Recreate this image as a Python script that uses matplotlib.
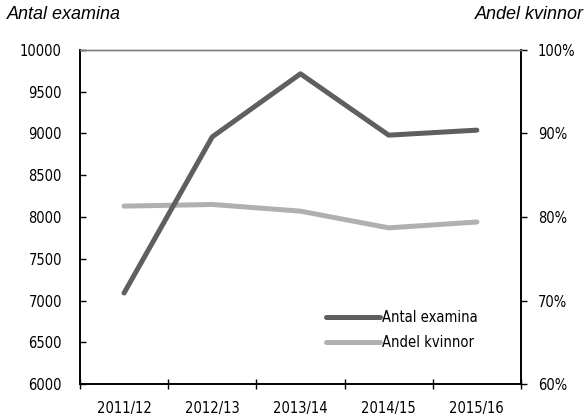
import matplotlib
matplotlib.use('Agg')
import matplotlib.pyplot as plt
import numpy as np
from matplotlib.ticker import PercentFormatter

plt.rcParams['font.family'] = ['DejaVu Sans']
plt.rcParams['font.stretch'] = 'condensed'
plt.rcParams['font.size'] = 10.5

# Examina per läsår och andel kvinnor
years = ['2011/12', '2012/13', '2013/14', '2014/15', '2015/16']
antal_examina = [7090, 8960, 9715, 8980, 9040]
andel_kvinnor = [0.813, 0.815, 0.807, 0.787, 0.794]

dark = '#5f5f5f'
light = '#b0b0b0'

fig = plt.figure(figsize=(5.88, 4.19), dpi=100)
ax = fig.add_axes([0.136, 0.0835, 0.75, 0.7972])
ax2 = ax.twinx()

x = np.arange(len(years))
l1, = ax.plot(x, antal_examina, color=dark, lw=3.6, solid_capstyle='round',
              label='Antal examina', zorder=3)
l2, = ax2.plot(x, andel_kvinnor, color=light, lw=3.6, solid_capstyle='round',
               label='Andel kvinnor', zorder=2)

ax.set_xlim(-0.5, len(years) - 0.5)
ax.set_ylim(6000, 10000)
ax.set_yticks(np.arange(6000, 10001, 500))
ax2.set_ylim(0.6, 1.0)
ax2.set_yticks([0.6, 0.7, 0.8, 0.9, 1.0])
ax2.yaxis.set_major_formatter(PercentFormatter(1.0, decimals=0))

# tick marks between categories, labels centred under each year
ax.set_xticks(np.arange(-0.5, len(years), 1.0))
ax.set_xticklabels([])
ax.set_xticks(x, minor=True)
ax.set_xticklabels(years, minor=True)
ax.tick_params(axis='x', which='major', direction='inout', length=7, width=1)
ax.tick_params(axis='x', which='minor', length=0, pad=12)
ax.tick_params(axis='y', direction='in', length=4.3, width=1, pad=13)
ax2.tick_params(axis='y', direction='out', length=4.3, width=1, pad=8)

for a in (ax, ax2):
    a.spines['top'].set_color('#808080')
    a.spines['top'].set_linewidth(1.0)
    for s in ('left', 'right', 'bottom'):
        a.spines[s].set_linewidth(1.2)

ax.set_zorder(ax2.get_zorder() + 1)
ax.patch.set_visible(False)

fig.text(0.012, 0.965, 'Antal examina', style='italic', fontsize=13,
         family=['Liberation Sans', 'DejaVu Sans'], stretch='normal',
         va='center', ha='left')
fig.text(0.993, 0.965, 'Andel kvinnor', style='italic', fontsize=13,
         family=['Liberation Sans', 'DejaVu Sans'], stretch='normal',
         va='center', ha='right')

ax.legend([l1, l2], ['Antal examina', 'Andel kvinnor'], frameon=False,
          loc='lower right', bbox_to_anchor=(0.918, 0.081), borderpad=0,
          handlelength=3.7, handletextpad=0.15, labelspacing=0.65)

fig.savefig('out.png', dpi=100)
